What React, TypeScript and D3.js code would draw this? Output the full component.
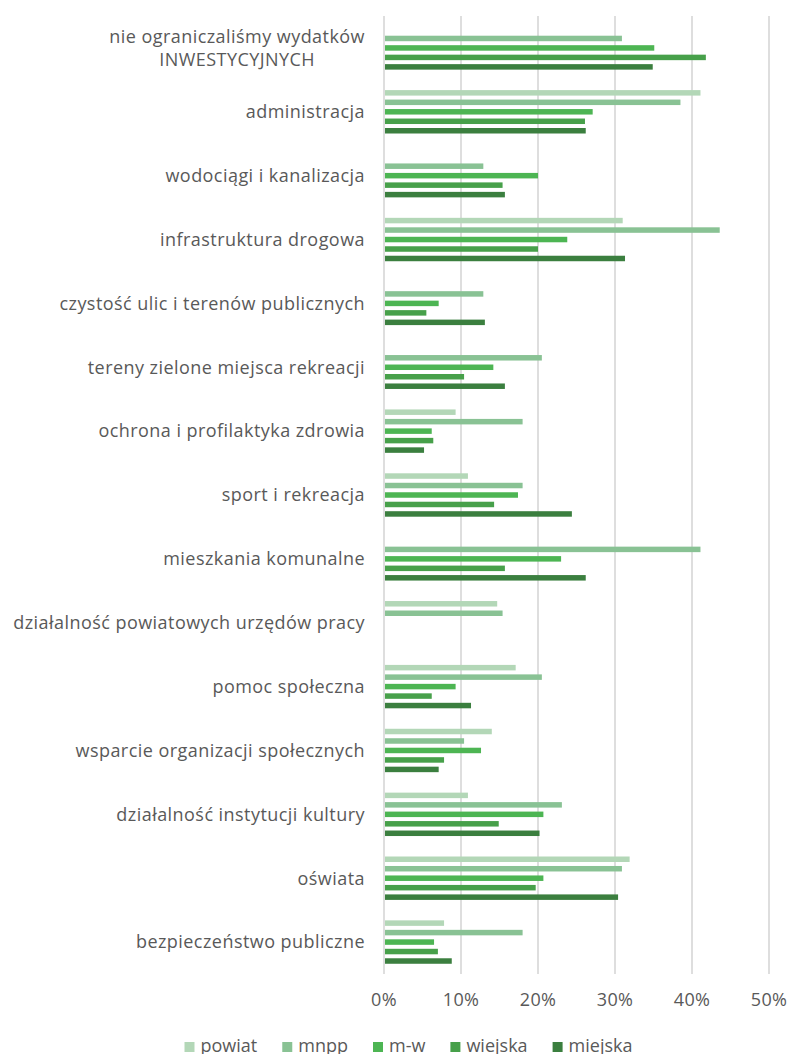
import React, { useEffect, useRef } from "react";
import * as d3 from "d3";

const categories = [
  ["nie ograniczaliśmy wydatków", "INWESTYCYJNYCH"],
  ["administracja"],
  ["wodociągi i kanalizacja"],
  ["infrastruktura drogowa"],
  ["czystość ulic i terenów publicznych"],
  ["tereny zielone miejsca rekreacji"],
  ["ochrona i profilaktyka zdrowia"],
  ["sport i rekreacja"],
  ["mieszkania komunalne"],
  ["działalność powiatowych urzędów pracy"],
  ["pomoc społeczna"],
  ["wsparcie organizacji społecznych"],
  ["działalność instytucji kultury"],
  ["oświata"],
  ["bezpieczeństwo publiczne"],
];

const seriesNames = ["powiat", "mnpp", "m-w", "wiejska", "miejska"];
const seriesColors = ["#b3d7b7", "#89c294", "#4db553", "#47a04a", "#3b7f3f"];

const powiat = [0, 41.1, 0, 31.0, 0, 0, 9.3, 10.9, 0, 14.7, 17.1, 14.0, 10.9, 31.9, 7.8];
const mnpp = [30.9, 38.5, 12.9, 43.6, 12.9, 20.5, 18.0, 18.0, 41.1, 15.4, 20.5, 10.4, 23.1, 30.9, 18.0];
const mw = [35.1, 27.1, 20.0, 23.8, 7.1, 14.2, 6.2, 17.4, 23.0, 0, 9.3, 12.6, 20.7, 20.7, 6.5];
const wiejska = [41.8, 26.1, 15.4, 20.0, 5.5, 10.4, 6.4, 14.3, 15.7, 0, 6.2, 7.8, 14.9, 19.7, 7.0];
const miejska = [34.9, 26.2, 15.7, 31.3, 13.1, 15.7, 5.2, 24.4, 26.2, 0, 11.3, 7.1, 20.2, 30.4, 8.8];

const seriesValues = [powiat, mnpp, mw, wiejska, miejska];
const xTicks = [0, 10, 20, 30, 40, 50];

const FONT = "'Open Sans', 'Noto Sans', sans-serif";
const TEXT = "#595959";

export default function App() {
  const ref = useRef<SVGSVGElement>(null);

  useEffect(() => {
    const svg = d3.select(ref.current);
    svg.selectAll("*").remove();

    const x = d3.scaleLinear().domain([0, 50]).range([384, 769]);
    const catIdx = categories.map((_, i) => String(i));
    const y = d3.scaleBand().domain(catIdx).range([16, 974]).padding(0);
    const yi = d3
      .scaleBand()
      .domain(seriesNames)
      .range([0, y.bandwidth()])
      .paddingInner(0.42)
      .paddingOuter(1.08);

    // gridlines
    svg
      .append("g")
      .selectAll("line")
      .data(xTicks)
      .join("line")
      .attr("x1", (d) => x(d))
      .attr("x2", (d) => x(d))
      .attr("y1", 16)
      .attr("y2", 974)
      .attr("stroke", "#d6d6d6")
      .attr("stroke-width", 1.6);

    // bars
    seriesNames.forEach((s, si) => {
      svg
        .append("g")
        .selectAll("rect")
        .data(seriesValues[si].map((v, i) => ({ v, i })))
        .join("rect")
        .attr("x", x(0) + 1)
        .attr("y", (d) => (y(String(d.i)) as number) + (yi(s) as number))
        .attr("width", (d) => Math.max(0, x(d.v) - x(0) - 1))
        .attr("height", yi.bandwidth())
        .attr("fill", seriesColors[si]);
    });

    // category labels
    const lab = svg.append("g");
    const labelRight = 365;
    categories.forEach((lines, i) => {
      const cy = (y(String(i)) as number) + y.bandwidth() / 2;
      const lh = 23;
      const t = lab
        .append("text")
        .attr("font-family", FONT)
        .attr("font-size", 18)
        .attr("letter-spacing", 0.45)
        .attr("fill", TEXT);
      lines.forEach((ln, li) => {
        t.append("tspan")
          .attr("x", labelRight)
          .attr("y", cy + (li - (lines.length - 1) / 2) * lh)
          .attr("dy", "0.35em")
          .attr("text-anchor", li === 0 ? "end" : "middle")
          .text(ln);
      });
    });
    // center the second line of the first label under the first line
    lab.selectAll("text").each(function () {
      const tsp = d3.select(this).selectAll("tspan");
      if (tsp.size() > 1) {
        const first = tsp.nodes()[0] as SVGTextContentElement;
        const w = first.getComputedTextLength();
        d3.select(tsp.nodes()[1] as Element).attr("x", labelRight - w / 2);
      }
    });

    // x tick labels
    svg
      .append("g")
      .selectAll("text")
      .data(xTicks)
      .join("text")
      .attr("x", (d) => x(d))
      .attr("y", 1000)
      .attr("dy", "0.35em")
      .attr("text-anchor", "middle")
      .attr("font-family", FONT)
      .attr("font-size", 18)
      .attr("letter-spacing", 0.3)
      .attr("fill", TEXT)
      .text((d) => `${d}%`);

    // legend
    const lg = svg.append("g");
    const items = seriesNames.map((s, si) => {
      const g = lg.append("g");
      g.append("rect")
        .attr("x", 0)
        .attr("y", 1042)
        .attr("width", 10)
        .attr("height", 10)
        .attr("fill", seriesColors[si]);
      const t = g
        .append("text")
        .attr("x", 16)
        .attr("y", 1046)
        .attr("dy", "0.35em")
        .attr("font-family", FONT)
        .attr("font-size", 18)
        .attr("fill", TEXT)
        .text(s);
      const w = 16 + (t.node() as SVGTextContentElement).getComputedTextLength();
      return { g, w };
    });
    const gap = 25;
    const total = items.reduce((a, b) => a + b.w, 0) + gap * (items.length - 1);
    let cx = 408.5 - total / 2;
    items.forEach((it) => {
      it.g.attr("transform", `translate(${cx},0)`);
      cx += it.w + gap;
    });
  }, []);

  return (
    <svg
      ref={ref}
      width={791}
      height={1054}
      style={{ position: "absolute", left: 0, top: 0, background: "#fff" }}
    />
  );
}
